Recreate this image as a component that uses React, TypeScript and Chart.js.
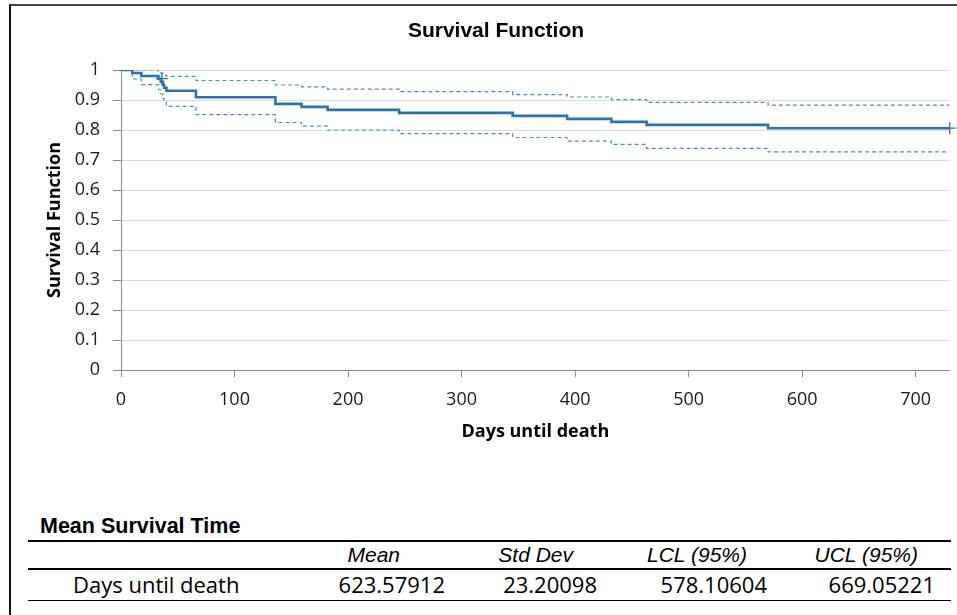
import { useEffect, useRef } from "react";
import { Chart, registerables } from "chart.js";

Chart.register(...registerables);

// Kaplan-Meier estimate (step function, value holds from day until next day)
const days = [0, 10, 18, 33, 35, 37, 38, 40, 66, 136, 159, 182, 245, 345, 393, 432, 463, 570, 730];
const survival = [1, 0.99, 0.98, 0.971, 0.961, 0.951, 0.941, 0.931, 0.909, 0.887, 0.877, 0.867, 0.857, 0.847, 0.837, 0.827, 0.817, 0.806, 0.806];
const upper95 = [1, 1, 1, 0.995, 0.99, 0.987, 0.983, 0.979, 0.965, 0.95, 0.944, 0.936, 0.928, 0.918, 0.91, 0.901, 0.892, 0.883, 0.883];
const lower95 = [1, 0.97, 0.951, 0.935, 0.92, 0.905, 0.892, 0.879, 0.851, 0.825, 0.813, 0.8, 0.788, 0.775, 0.763, 0.752, 0.739, 0.727, 0.727];

// censored observations
const censorDays = [36, 730];
const censorSurvival = [0.971, 0.806];

const xMin = 0;
const xMax = 730;
const xStep = 100;
const yMin = 0;
const yMax = 1;
const yStep = 0.1;

const chartTitle = "Survival Function";
const yTitle = "Survival Function";
const xTitle = "Days until death";

// Mean survival time table
const tableTitle = "Mean Survival Time";
const tableHeaders = ["Mean", "Std Dev", "LCL (95%)", "UCL (95%)"];
const tableRowLabel = "Days until death";
const tableValues = ["623.57912", "23.20098", "578.10604", "669.05221"];

const headerRight = [400, 573, 747, 918];
const valueRight = [445, 597, 767, 935];

const BLUE = "#2a72b0";
const BLUE_DASH = "#4a8dca";

function toPoints(xs: number[], ys: number[]) {
  return xs.map((x, i) => ({ x, y: ys[i] }));
}

function SurvivalChart() {
  const ref = useRef<HTMLCanvasElement | null>(null);
  useEffect(() => {
    if (!ref.current) return;
    const tickFont = { family: "'Open Sans'", size: 18 };
    const chart = new Chart(ref.current, {
      type: "line",
      data: {
        datasets: [
          {
            label: "Survival",
            data: toPoints(days, survival),
            stepped: "before",
            borderColor: BLUE,
            borderWidth: 2.6,
            pointRadius: 0,
            fill: false,
            order: 1,
          },
          {
            label: "Upper 95%",
            data: toPoints(days, upper95),
            stepped: "before",
            borderColor: BLUE_DASH,
            borderWidth: 1.2,
            borderDash: [4, 3],
            pointRadius: 0,
            fill: false,
            order: 2,
          },
          {
            label: "Lower 95%",
            data: toPoints(days, lower95),
            stepped: "before",
            borderColor: BLUE_DASH,
            borderWidth: 1.2,
            borderDash: [4, 3],
            pointRadius: 0,
            fill: false,
            order: 3,
          },
          {
            label: "Censored",
            type: "scatter",
            data: toPoints(censorDays, censorSurvival),
            pointStyle: "cross",
            pointRadius: 6,
            borderColor: BLUE,
            borderWidth: 1.3,
            clip: false,
            order: 0,
          } as any,
        ],
      },
      options: {
        responsive: false,
        animation: false,
        events: [],
        layout: { padding: { left: 42, right: 7, top: 0, bottom: 0 } },
        plugins: {
          legend: { display: false },
          tooltip: { enabled: false },
          title: {
            display: true,
            text: chartTitle,
            color: "#000",
            font: { family: "'Liberation Sans'", size: 21, weight: "bold" },
            padding: { top: 19, bottom: 25.8 },
          },
        },
        scales: {
          x: {
            type: "linear",
            min: xMin,
            max: xMax,
            ticks: {
              stepSize: xStep,
              includeBounds: false,
              color: "#1a1a1a",
              font: tickFont,
              padding: 12,
              maxRotation: 0,
            },
            grid: {
              drawOnChartArea: false,
              drawTicks: true,
              tickLength: 7,
              tickColor: "#8c8c8c",
            },
            border: { display: true, color: "#8c8c8c", width: 1 },
            title: {
              display: true,
              text: xTitle,
              color: "#000",
              font: { family: "'Open Sans'", size: 18, weight: "bold" },
              padding: { top: 4, bottom: 17 },
            },
            afterFit: (s: any) => {
              s.height = 90;
            },
          },
          y: {
            type: "linear",
            min: yMin,
            max: yMax,
            ticks: {
              stepSize: yStep,
              color: "#1a1a1a",
              font: tickFont,
              padding: 13,
              callback: (v: any) => String(Number(Number(v).toFixed(1))),
            },
            grid: {
              color: "#dcdcdc",
              lineWidth: 1,
              drawTicks: true,
              tickLength: 8,
              tickColor: "#8c8c8c",
            },
            border: { display: true, color: "#8c8c8c", width: 1 },
            title: {
              display: true,
              text: yTitle,
              color: "#000",
              font: { family: "'Open Sans'", size: 18, weight: "bold" },
              padding: { top: 2, bottom: 4 },
            },
            afterFit: (s: any) => {
              s.width = 79;
            },
          },
        },
      },
    });
    return () => chart.destroy();
  }, []);
  return <canvas ref={ref} width={957} height={460} style={{ display: "block" }} />;
}

export default function App() {
  const hLine = (top: number, h: number) => (
    <div
      style={{
        position: "absolute",
        left: 28,
        top,
        width: 923,
        height: h,
        background: "#000",
      }}
    />
  );
  return (
    <div
      style={{
        position: "absolute",
        left: 0,
        top: 0,
        width: 957,
        height: 615,
        background: "#fff",
        overflow: "hidden",
      }}
    >
      {/* frame */}
      <div style={{ position: "absolute", left: 9, top: 4, width: 948, height: 2, background: "#444" }} />
      <div style={{ position: "absolute", left: 9, top: 4, width: 2, height: 611, background: "#111" }} />
      <div style={{ position: "absolute", left: 0, top: 0, width: 957, height: 460 }}>
        <SurvivalChart />
      </div>
      {/* table */}
      <div
        style={{
          position: "absolute",
          left: 40,
          top: 516,
          fontFamily: "'Liberation Sans', Arial, sans-serif",
          fontWeight: "bold",
          fontSize: 21.5,
          lineHeight: "21px",
          color: "#000",
          whiteSpace: "nowrap",
        }}
      >
        {tableTitle}
      </div>
      {hLine(540, 2)}
      {tableHeaders.map((h, i) => (
        <div
          key={h}
          style={{
            position: "absolute",
            right: 957 - headerRight[i],
            top: 544,
            fontFamily: "'Liberation Sans', Arial, sans-serif",
            fontStyle: "italic",
            fontSize: 21,
            lineHeight: "21px",
            color: "#000",
            whiteSpace: "nowrap",
          }}
        >
          {h}
        </div>
      ))}
      {hLine(568, 2)}
      <div
        style={{
          position: "absolute",
          left: 73,
          top: 573,
          fontFamily: "'Open Sans', sans-serif",
          fontSize: 22,
          lineHeight: "22px",
          color: "#000",
          whiteSpace: "nowrap",
        }}
      >
        {tableRowLabel}
      </div>
      {tableValues.map((v, i) => (
        <div
          key={v}
          style={{
            position: "absolute",
            right: 957 - valueRight[i],
            top: 573,
            fontFamily: "'Open Sans', sans-serif",
            fontSize: 22,
            lineHeight: "22px",
            color: "#000",
            whiteSpace: "nowrap",
          }}
        >
          {v}
        </div>
      ))}
      {hLine(600, 1)}
    </div>
  );
}
